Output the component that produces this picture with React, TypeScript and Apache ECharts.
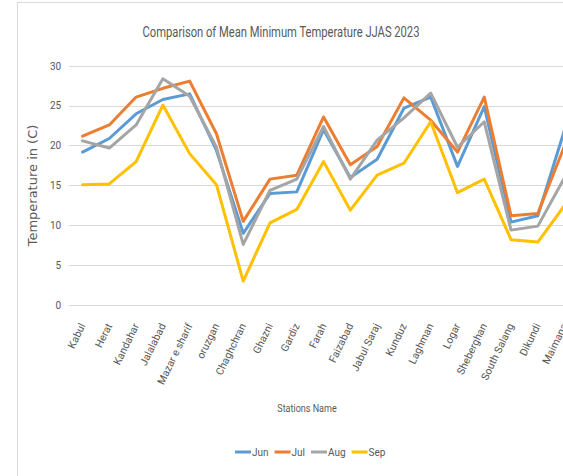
import React, { useEffect, useRef } from "react";
import * as echarts from "echarts";

const stations = [
  "Kabul", "Herat", "Kandahar", "Jalalabad", "Mazar e sharif", "oruzgan", "Chaghchran",
  "Ghazni", "Gardiz", "Farah", "Faizabad", "Jabul Saraj", "Kunduz", "Laghman", "Logar",
  "Sheberghan", "South Salang", "Dikundi", "Maimana",
];
const jun = [19.2, 20.9, 24.0, 25.8, 26.5, 19.4, 9.0, 14.0, 14.2, 22.0, 16.0, 18.3, 24.7, 26.1, 17.4, 24.9, 10.4, 11.2, 22.0];
const jul = [21.2, 22.6, 26.1, 27.2, 28.1, 21.5, 10.5, 15.8, 16.3, 23.6, 17.6, 19.9, 26.0, 23.2, 19.2, 26.1, 11.2, 11.5, 20.0];
const aug = [20.6, 19.7, 22.6, 28.4, 26.2, 19.8, 7.6, 14.4, 15.8, 22.4, 15.8, 20.7, 23.5, 26.6, 19.8, 23.0, 9.4, 9.9, 16.0];
const sep = [15.1, 15.2, 18.0, 25.1, 19.0, 15.1, 3.0, 10.3, 12.0, 18.0, 11.9, 16.3, 17.8, 23.0, 14.1, 15.8, 8.2, 7.9, 12.5];
const yTicks = { min: 0, max: 30, interval: 5 };

const seriesDefs = [
  { name: "Jun", data: jun, color: "#5B9BD5" },
  { name: "Jul", data: jul, color: "#ED7D31" },
  { name: "Aug", data: aug, color: "#A5A5A5" },
  { name: "Sep", data: sep, color: "#FFC000" },
];

const font = "Roboto, sans-serif";

export default function App() {
  const ref = useRef<HTMLDivElement>(null);
  useEffect(() => {
    document.body.style.margin = "0";
    const chart = echarts.init(ref.current!, null, { renderer: "svg" });
    chart.setOption({
      animation: false,
      backgroundColor: "#ffffff",
      legend: {
        data: seriesDefs.map((s) => s.name),
        left: 217,
        top: 444,
        icon: "rect",
        itemWidth: 16,
        itemHeight: 3,
        itemGap: 6,
        padding: 0,
        textStyle: { fontFamily: font, fontSize: 10, color: "#595959", padding: [0, 0, 0, -4] },
      },
      grid: { left: 37, top: 63, width: 523, height: 239, containLabel: false },
      xAxis: {
        type: "category",
        data: stations,
        boundaryGap: true,
        axisLine: { lineStyle: { color: "#d9d9d9" } },
        axisTick: { show: false },
        axisLabel: {
          interval: 0,
          rotate: 64,
          margin: 19,
          fontFamily: font,
          fontSize: 10.5,
          color: "#595959",
        },
      },
      yAxis: {
        type: "value",
        min: yTicks.min,
        max: yTicks.max,
        interval: yTicks.interval,
        name: "Temperature in (C)",
        nameLocation: "middle",
        nameGap: 10,
        nameTextStyle: { fontFamily: "'DejaVu Sans', sans-serif", fontSize: 13, color: "#595959" },
        axisLine: { show: false },
        axisTick: { show: false },
        axisLabel: { margin: 8, fontFamily: font, fontSize: 10, color: "#595959" },
        splitLine: { lineStyle: { color: "#d9d9d9", width: 1 } },
      },
      graphic: [
        {
          type: "text",
          x: 263,
          y: 29,
          scaleX: 0.8,
          style: {
            text: "Comparison of Mean Minimum Temperature JJAS 2023",
            x: 0,
            y: 0,
            textAlign: "center",
            textVerticalAlign: "middle",
            fontFamily: font,
            fontSize: 14,
            fill: "#595959",
          },
        },
        {
          type: "text",
          x: 289,
          y: 405,
          scaleX: 0.82,
          style: {
            text: "Stations Name",
            x: 0,
            y: 0,
            textAlign: "center",
            textVerticalAlign: "middle",
            fontFamily: font,
            fontSize: 11,
            fill: "#595959",
          },
        },
      ],
      series: seriesDefs.map((s) => ({
        name: s.name,
        type: "line",
        data: s.data,
        symbol: "none",
        lineStyle: { width: 3, color: s.color, cap: "round", join: "round" },
        itemStyle: { color: s.color },
      })),
    });
    return () => chart.dispose();
  }, []);

  return (
    <div style={{ position: "absolute", left: 0, top: 0, width: 563, height: 476, overflow: "hidden", background: "#fff" }}>
      <div
        style={{
          position: "absolute",
          left: 17,
          top: 2,
          borderLeft: "1px solid #d9d9d9",
          borderTop: "1px solid #d9d9d9",
        }}
      >
        <div ref={ref} style={{ width: 630, height: 500 }} />
      </div>
    </div>
  );
}
